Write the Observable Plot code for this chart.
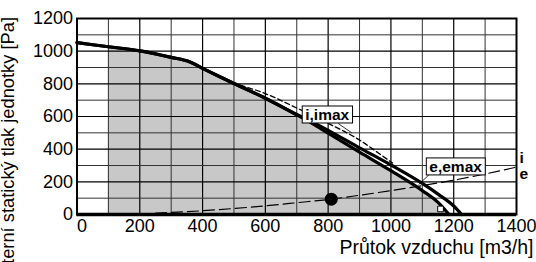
<!DOCTYPE html>
<html><head><meta charset="utf-8">
<script src="https://cdn.jsdelivr.net/npm/d3@7"></script>
<script src="https://cdn.jsdelivr.net/npm/@observablehq/plot@0.6"></script>
<style>html,body{margin:0;padding:0;background:#fff;overflow:hidden}</style>
</head><body><div id="chart"></div>
<script>
// ---- data ----
const flowTicks = [0, 200, 400, 600, 800, 1000, 1200, 1400];
const pressureTicks = [0, 200, 400, 600, 800, 1000, 1200];
const gridFlowMajor = [200, 400, 600, 800, 1000, 1200];
const gridFlowMinor = [100, 300, 500, 700, 900, 1100, 1300];
const gridPressureMajor = [200, 400, 600, 800, 1000];
const gridPressureMinor = [100, 300, 500, 700, 900, 1100];

// curve "i" (outer thick)
const curveI_flow =     [0,    100,  200,  300, 360, 400, 450, 500, 600, 700, 750, 800, 900, 1000, 1100, 1150, 1200, 1225];
const curveI_pressure = [1052, 1027, 1002, 962, 934, 895, 848, 802, 712, 612, 565, 515, 408, 303,  190,  125,  52,   0];
// curve "e" (inner thick)
const curveE_flow =     [0,    100,  200,  300, 360, 400, 450, 500, 600, 700, 750, 800, 900, 1000, 1100, 1150, 1185];
const curveE_pressure = [1052, 1027, 1002, 962, 934, 895, 848, 802, 712, 610, 557, 498, 382, 268,  146,  74,   0];
// dashed "max" curve
const curveMax_flow =     [520, 600, 700, 800, 850, 900, 950, 1005];
const curveMax_pressure = [792, 740, 652, 558, 510, 456, 390, 315];
// dashed system curve
const system_flow =     [250, 300, 400, 500, 600, 700, 810, 900, 1000, 1100, 1200, 1300, 1395];
const system_pressure = [9,   13,  23,  37,  53,  72,  94,  118, 146,  177,  210,  248,  288];
// markers
const opPoint_flow = [810], opPoint_pressure = [94];
const squareMark_flow = [1158], squareMark_pressure = [34];
// labels
const boxLabels = ["i,imax", "e,emax"];
const boxLabel_flow = [797, 1206];
const boxLabel_pressure = [609, 291];
const leader_flow1 = [832, 1125], leader_pressure1 = [557, 250];
const leader_flow2 = [875, 1088], leader_pressure2 = [500, 183];
const endLabels = ["i", "e"];
const endLabel_flow = [1400, 1400];
const endLabel_pressure = [345, 245];
const xTitle = "Průtok vzduchu [m3/h]";
const yTitle = "Externí statický tlak jednotky [Pa]";

// ---- tables ----
const pts = (xs, ys) => xs.map((x, i) => ({flow: x, pressure: ys[i]}));
const curveI = pts(curveI_flow, curveI_pressure);
const curveE = pts(curveE_flow, curveE_pressure);
const curveMax = pts(curveMax_flow, curveMax_pressure);
const system = pts(system_flow, system_pressure);
const fillArea = curveE.filter(d => d.flow >= 100);
const boxes = boxLabels.map((t, i) => ({t, flow: boxLabel_flow[i], pressure: boxLabel_pressure[i]}));
const leaders = leader_flow1.map((x, i) => ({x1: x, y1: leader_pressure1[i], x2: leader_flow2[i], y2: leader_pressure2[i]}));
const ends = endLabels.map((t, i) => ({t, flow: endLabel_flow[i], pressure: endLabel_pressure[i]}));
const opPoint = pts(opPoint_flow, opPoint_pressure);
const squareMark = pts(squareMark_flow, squareMark_pressure);

const FONT = "'Liberation Sans', Arial, Helvetica, sans-serif";
const fmt = d => String(d);

const svg = Plot.plot({
  width: 536, height: 262,
  marginLeft: 76.5, marginRight: 20, marginTop: 18, marginBottom: 48,
  style: {fontFamily: FONT, fontSize: "18px", color: "black", background: "white", overflow: "hidden"},
  x: {domain: [0, 1400]},
  y: {domain: [0, 1200]},
  marks: [
    Plot.areaY(fillArea, {x: "flow", y: "pressure", fill: "#c8c8c8", curve: "monotone-x"}),
    Plot.ruleX(gridFlowMinor, {stroke: "#333", strokeWidth: 1}),
    Plot.ruleX(gridFlowMajor, {stroke: "#000", strokeWidth: 1.2}),
    Plot.ruleY(gridPressureMinor, {stroke: "#333", strokeWidth: 1}),
    Plot.ruleY(gridPressureMajor, {stroke: "#000", strokeWidth: 1.2}),
    Plot.line(system, {x: "flow", y: "pressure", stroke: "black", strokeWidth: 1.2, strokeDasharray: "11,5", curve: "monotone-x"}),
    Plot.line(curveMax, {x: "flow", y: "pressure", stroke: "black", strokeWidth: 1.3, strokeDasharray: "5,3", curve: "monotone-x"}),
    Plot.line(curveI, {x: "flow", y: "pressure", stroke: "black", strokeWidth: 3.2, curve: "monotone-x"}),
    Plot.line(curveE, {x: "flow", y: "pressure", stroke: "black", strokeWidth: 3.2, curve: "monotone-x"}),
    Plot.dot(opPoint, {x: "flow", y: "pressure", r: 6.5, fill: "black"}),
    Plot.dot(squareMark, {x: "flow", y: "pressure", symbol: "square", r: 3.2, fill: "white", stroke: "black", strokeWidth: 1}),
    Plot.link(leaders, {x1: "x1", y1: "y1", x2: "x2", y2: "y2", stroke: "black", strokeWidth: 0.8}),
    Plot.text(boxes, {x: "flow", y: "pressure", text: "t", fontWeight: "bold", fontSize: 15.5, fontFamily: FONT, fill: "black"}),
    Plot.text(ends, {x: "flow", y: "pressure", text: "t", fontWeight: "bold", fontSize: 15.5, fontFamily: FONT, fill: "black", textAnchor: "start", dx: 3}),
    Plot.ruleY([0], {stroke: "black", strokeWidth: 3.5}),
    Plot.frame({stroke: "black", strokeWidth: 2}),
    Plot.axisY(pressureTicks, {tickSize: 0, tickPadding: 4, label: null, fontSize: 18, tickFormat: fmt}),
    Plot.axisX(flowTicks.slice(1), {tickSize: 0, tickPadding: 5, label: null, fontSize: 18, tickFormat: fmt}),
    Plot.axisX(flowTicks.slice(0, 1), {tickSize: 0, tickPadding: 5, label: null, fontSize: 18, dx: 5, tickFormat: fmt}),
    Plot.text([xTitle], {text: d => d, frameAnchor: "bottom-right", textAnchor: "end", lineAnchor: "middle", dx: 17, dy: 33, fontSize: 19.5, fontFamily: FONT, fill: "black"}),
    Plot.text([yTitle], {text: d => d, frameAnchor: "top-left", rotate: -90, textAnchor: "end", lineAnchor: "middle", dx: -69, dy: -1.5, fontSize: 18.3, fontFamily: FONT, fill: "black"})
  ]
});
document.getElementById("chart").append(svg);

// white boxes behind the curve labels
svg.querySelectorAll("text").forEach(t => {
  if (!boxLabels.includes(t.textContent)) return;
  const b = t.getBBox();
  const r = document.createElementNS("http://www.w3.org/2000/svg", "rect");
  r.setAttribute("x", b.x - 3);
  r.setAttribute("y", b.y);
  r.setAttribute("width", b.width + 6);
  r.setAttribute("height", b.height);
  r.setAttribute("fill", "white");
  r.setAttribute("stroke", "black");
  r.setAttribute("stroke-width", "1");
  const tr = t.getAttribute("transform");
  if (tr) r.setAttribute("transform", tr);
  t.parentNode.insertBefore(r, t);
});
</script>
</body></html>
